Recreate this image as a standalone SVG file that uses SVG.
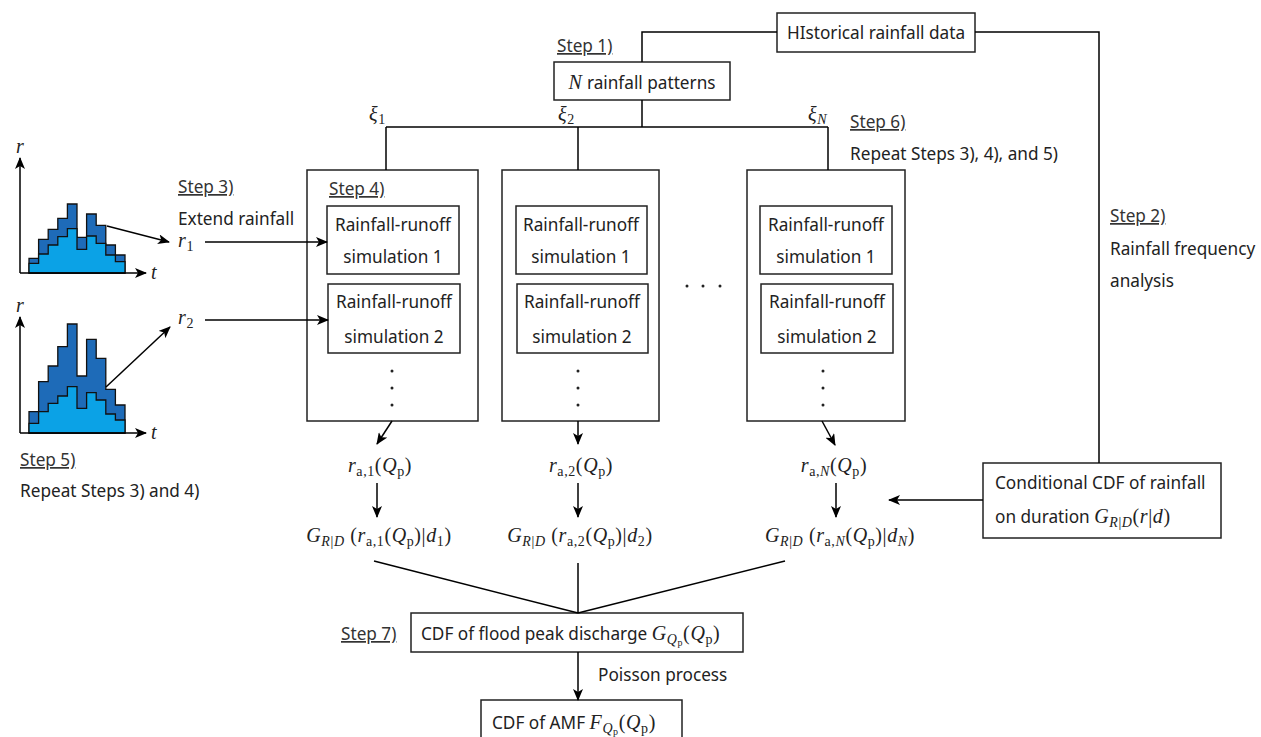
<svg xmlns="http://www.w3.org/2000/svg" width="1261" height="737" viewBox="0 0 1261 737">
<defs>
<marker id="ah" viewBox="0 0 12 10" markerWidth="12" markerHeight="10" refX="11" refY="5" orient="auto" markerUnits="userSpaceOnUse">
<path d="M0,0 L12,5 L0,10 L3,5 Z" fill="#000"/>
</marker>
<style>
.t{font-family:"Noto Sans","Liberation Sans",sans-serif;font-size:17.2px;fill:#222}
.st{font-family:"Noto Sans","Liberation Sans",sans-serif;font-size:17.2px;fill:#333;text-decoration:underline}
.m{font-family:"Liberation Serif","DejaVu Serif",serif;font-size:20px;fill:#222;letter-spacing:0.6px}
.i{font-style:italic}
.s{font-size:14px}
.ss{font-size:10px}
.box{fill:#fff;stroke:#222;stroke-width:1.5}
.ln{fill:none;stroke:#000;stroke-width:1.5}
.ar{fill:none;stroke:#000;stroke-width:1.5;marker-end:url(#ah)}
.dk{fill:#1e6bb8;stroke:#111;stroke-width:1.3}
.lt{fill:#0ba2e6;stroke:#111;stroke-width:1.3}
.dot{fill:#222}
</style>
</defs>
<rect width="1261" height="737" fill="#fff"/>

<!-- charts -->
<g id="chart1">
<path class="dk" d="M29,273 V258.3 H38.6 V239.3 H48.2 V229.3 H57.8 V218.3 H67.4 V204 H77 V237.3 H86.6 V214 H96.2 V225.3 H105.8 V245 H115.4 V255 H125 V273 Z"/>
<path class="lt" d="M29,273 V263.3 H38.6 V254 H48.2 V245 H57.8 V236.7 H67.4 V228.7 H77 V249.3 H86.6 V236 H96.2 V243.3 H105.8 V255 H115.4 V261.7 H125 V273 Z"/>
<text class="m i" x="16" y="153">r</text>
<text class="m i" x="151" y="279">t</text>
</g>
<g id="chart2">
<path class="dk" d="M29,433 V411.7 H38.6 V381.7 H48.2 V366 H57.8 V346.7 H67.4 V324 H77 V376 H86.6 V339.3 H96.2 V358.3 H105.8 V389.3 H115.4 V405 H125 V433 Z"/>
<path class="lt" d="M29,433 V423.3 H38.6 V411.7 H48.2 V403.3 H57.8 V396 H67.4 V386.7 H77 V408.3 H86.6 V392.7 H96.2 V400 H105.8 V414 H115.4 V420 H125 V433 Z"/>
<text class="m i" x="16" y="312">r</text>
<text class="m i" x="151" y="439">t</text>
</g>

<!-- nodes -->
<g id="historical">
<rect class="box" x="777" y="13" width="198" height="39"/>
<text class="t" x="876" y="39" text-anchor="middle">HIstorical rainfall data</text>
</g>
<g id="step1">
<text class="st" x="557" y="52">Step 1)</text>
<rect class="box" x="554" y="62" width="176" height="38"/>
<text class="t" x="642" y="89" text-anchor="middle"><tspan class="m i">N</tspan> rainfall patterns</text>
</g>
<g id="xi-labels">
<text class="m" x="369" y="121"><tspan class="i">ξ</tspan><tspan class="s" dy="3">1</tspan></text>
<text class="m" x="558" y="121"><tspan class="i">ξ</tspan><tspan class="s" dy="3">2</tspan></text>
<text class="m" x="808" y="121"><tspan class="i">ξ</tspan><tspan class="s i" dy="3">N</tspan></text>
</g>
<g id="step6">
<text class="st" x="850" y="128">Step 6)</text>
<text class="t" x="850" y="160">Repeat Steps 3), 4), and 5)</text>
</g>
<g id="step3">
<text class="st" x="178" y="193">Step 3)</text>
<text class="t" x="178" y="225">Extend rainfall</text>
<text class="m" x="178" y="247"><tspan class="i">r</tspan><tspan class="s" dy="4">1</tspan></text>
<text class="m" x="178" y="324"><tspan class="i">r</tspan><tspan class="s" dy="4">2</tspan></text>
</g>
<g id="step5">
<text class="st" x="20" y="466">Step 5)</text>
<text class="t" x="20" y="497">Repeat Steps 3) and 4)</text>
</g>

<g id="sim-col1">
<rect class="box" x="307" y="170" width="171" height="251"/>
<text class="st" x="329" y="195">Step 4)</text>
<rect class="box" x="327" y="206" width="132" height="68"/>
<text class="t" x="393" y="231" text-anchor="middle">Rainfall-runoff</text>
<text class="t" x="393" y="263" text-anchor="middle">simulation 1</text>
<rect class="box" x="328" y="284" width="132" height="69"/>
<text class="t" x="394" y="308" text-anchor="middle">Rainfall-runoff</text>
<text class="t" x="394" y="343" text-anchor="middle">simulation 2</text>
<circle class="dot" cx="392" cy="371" r="1.5"/><circle class="dot" cx="392" cy="388" r="1.5"/><circle class="dot" cx="392" cy="405" r="1.5"/>
</g>
<g id="sim-col2">
<rect class="box" x="502" y="170" width="157" height="251"/>
<rect class="box" x="516" y="206" width="131" height="68"/>
<text class="t" x="581" y="231" text-anchor="middle">Rainfall-runoff</text>
<text class="t" x="581" y="263" text-anchor="middle">simulation 1</text>
<rect class="box" x="517" y="284" width="131" height="69"/>
<text class="t" x="582" y="308" text-anchor="middle">Rainfall-runoff</text>
<text class="t" x="582" y="343" text-anchor="middle">simulation 2</text>
<circle class="dot" cx="578" cy="371" r="1.5"/><circle class="dot" cx="578" cy="388" r="1.5"/><circle class="dot" cx="578" cy="405" r="1.5"/>
</g>
<g id="hdots">
<circle class="dot" cx="687" cy="286" r="1.5"/><circle class="dot" cx="703" cy="286" r="1.5"/><circle class="dot" cx="720" cy="286" r="1.5"/>
</g>
<g id="sim-col3">
<rect class="box" x="747" y="170" width="158" height="251"/>
<rect class="box" x="760" y="206" width="132" height="68"/>
<text class="t" x="826" y="231" text-anchor="middle">Rainfall-runoff</text>
<text class="t" x="826" y="263" text-anchor="middle">simulation 1</text>
<rect class="box" x="761" y="284" width="132" height="69"/>
<text class="t" x="827" y="308" text-anchor="middle">Rainfall-runoff</text>
<text class="t" x="827" y="343" text-anchor="middle">simulation 2</text>
<circle class="dot" cx="823" cy="371" r="1.5"/><circle class="dot" cx="823" cy="388" r="1.5"/><circle class="dot" cx="823" cy="405" r="1.5"/>
</g>

<g id="ra1">
<text class="m" x="380" y="472" text-anchor="middle"><tspan class="i">r</tspan><tspan class="s" dy="4">a,1</tspan><tspan dy="-4">(</tspan><tspan class="i">Q</tspan><tspan class="s" dy="4">p</tspan><tspan dy="-4">)</tspan></text>
</g>
<g id="ra2">
<text class="m" x="581" y="472" text-anchor="middle"><tspan class="i">r</tspan><tspan class="s" dy="4">a,2</tspan><tspan dy="-4">(</tspan><tspan class="i">Q</tspan><tspan class="s" dy="4">p</tspan><tspan dy="-4">)</tspan></text>
</g>
<g id="raN">
<text class="m" x="834" y="472" text-anchor="middle"><tspan class="i">r</tspan><tspan class="s" dy="4">a,</tspan><tspan class="s i">N</tspan><tspan dy="-4">(</tspan><tspan class="i">Q</tspan><tspan class="s" dy="4">p</tspan><tspan dy="-4">)</tspan></text>
</g>
<g id="G1">
<text class="m" x="379" y="542" text-anchor="middle"><tspan class="i">G</tspan><tspan class="s i" dy="4">R</tspan><tspan class="s">|</tspan><tspan class="s i">D</tspan><tspan dy="-4"> (</tspan><tspan class="i">r</tspan><tspan class="s" dy="4">a,1</tspan><tspan dy="-4">(</tspan><tspan class="i">Q</tspan><tspan class="s" dy="4">p</tspan><tspan dy="-4">)|</tspan><tspan class="i">d</tspan><tspan class="s" dy="4">1</tspan><tspan dy="-4">)</tspan></text>
</g>
<g id="G2">
<text class="m" x="580" y="542" text-anchor="middle"><tspan class="i">G</tspan><tspan class="s i" dy="4">R</tspan><tspan class="s">|</tspan><tspan class="s i">D</tspan><tspan dy="-4"> (</tspan><tspan class="i">r</tspan><tspan class="s" dy="4">a,2</tspan><tspan dy="-4">(</tspan><tspan class="i">Q</tspan><tspan class="s" dy="4">p</tspan><tspan dy="-4">)|</tspan><tspan class="i">d</tspan><tspan class="s" dy="4">2</tspan><tspan dy="-4">)</tspan></text>
</g>
<g id="GN">
<text class="m" x="840" y="542" text-anchor="middle"><tspan class="i">G</tspan><tspan class="s i" dy="4">R</tspan><tspan class="s">|</tspan><tspan class="s i">D</tspan><tspan dy="-4"> (</tspan><tspan class="i">r</tspan><tspan class="s" dy="4">a,</tspan><tspan class="s i">N</tspan><tspan dy="-4">(</tspan><tspan class="i">Q</tspan><tspan class="s" dy="4">p</tspan><tspan dy="-4">)|</tspan><tspan class="i">d</tspan><tspan class="s i" dy="4">N</tspan><tspan dy="-4">)</tspan></text>
</g>

<g id="step2">
<text class="st" x="1110" y="222">Step 2)</text>
<text class="t" x="1110" y="255">Rainfall frequency</text>
<text class="t" x="1110" y="287">analysis</text>
</g>
<g id="conditional-cdf">
<rect class="box" x="983" y="463" width="238" height="75"/>
<text class="t" x="995" y="489">Conditional CDF of rainfall</text>
<text class="t" x="995" y="523">on duration <tspan class="m i">G</tspan><tspan class="m s i" dy="4">R</tspan><tspan class="m s">|</tspan><tspan class="m s i">D</tspan><tspan class="m" dy="-4">(</tspan><tspan class="m i">r</tspan><tspan class="m">|</tspan><tspan class="m i">d</tspan><tspan class="m">)</tspan></text>
</g>
<g id="step7">
<text class="st" x="341" y="640">Step 7)</text>
<rect class="box" x="411" y="613" width="332" height="39"/>
<text class="t" x="421" y="640">CDF of flood peak discharge <tspan class="m i">G</tspan><tspan class="m s i" dy="4">Q</tspan><tspan class="m ss" dy="2">p</tspan><tspan class="m" dy="-6">(</tspan><tspan class="m i">Q</tspan><tspan class="m s" dy="4">p</tspan><tspan class="m" dy="-4">)</tspan></text>
</g>
<g id="poisson">
<text class="t" x="598" y="681">Poisson process</text>
</g>
<g id="amf">
<rect class="box" x="481" y="700" width="201" height="45"/>
<text class="t" x="492" y="729">CDF of AMF <tspan class="m i">F</tspan><tspan class="m s i" dy="4">Q</tspan><tspan class="m ss" dy="2">p</tspan><tspan class="m" dy="-6">(</tspan><tspan class="m i">Q</tspan><tspan class="m s" dy="4">p</tspan><tspan class="m" dy="-4">)</tspan></text>
</g>

<!-- connectors -->
<g id="connectors">
<line class="ar" x1="20" y1="273" x2="20" y2="158"/>
<line class="ar" x1="20" y1="273" x2="146" y2="273"/>
<line class="ar" x1="20" y1="433" x2="20" y2="317"/>
<line class="ar" x1="20" y1="433" x2="146" y2="433"/>
<polyline class="ln" points="777,32 642,32 642,62"/>
<polyline class="ln" points="975,32 1099,32 1099,463"/>
<line class="ln" x1="642" y1="100" x2="642" y2="127"/>
<line class="ln" x1="386" y1="127" x2="828" y2="127"/>
<line class="ln" x1="386" y1="127" x2="386" y2="170"/>
<line class="ln" x1="578" y1="127" x2="578" y2="170"/>
<line class="ln" x1="828" y1="127" x2="828" y2="170"/>
<line class="ar" x1="107" y1="226" x2="169" y2="242"/>
<line class="ar" x1="106" y1="387" x2="170" y2="327"/>
<line class="ar" x1="205" y1="242" x2="327" y2="242"/>
<line class="ar" x1="205" y1="320" x2="328" y2="320"/>
<line class="ar" x1="392" y1="421" x2="377" y2="444"/>
<line class="ar" x1="578" y1="421" x2="578" y2="444"/>
<line class="ar" x1="822" y1="421" x2="835" y2="445"/>
<line class="ar" x1="377" y1="483" x2="377" y2="517"/>
<line class="ar" x1="578" y1="483" x2="578" y2="517"/>
<line class="ar" x1="836" y1="483" x2="836" y2="517"/>
<line class="ar" x1="983" y1="500" x2="889" y2="500"/>
<line class="ln" x1="374" y1="561" x2="578" y2="613"/>
<line class="ln" x1="578" y1="563" x2="578" y2="613"/>
<line class="ln" x1="785" y1="561" x2="578" y2="613"/>
<line class="ar" x1="578" y1="652" x2="578" y2="700"/>
</g>
</svg>
